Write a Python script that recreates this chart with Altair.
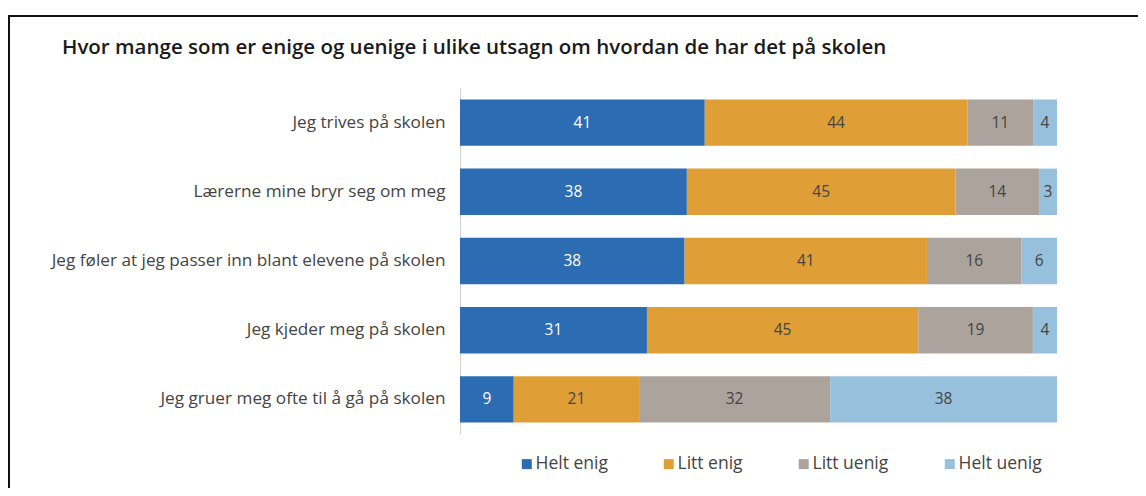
import altair as alt
import pandas as pd

questions = [
    "Jeg trives på skolen",
    "Lærerne mine bryr seg om meg",
    "Jeg føler at jeg passer inn blant elevene på skolen",
    "Jeg kjeder meg på skolen",
    "Jeg gruer meg ofte til å gå på skolen",
]
categories = ["Helt enig", "Litt enig", "Litt uenig", "Helt uenig"]
helt_enig = [41, 38, 38, 31, 9]
litt_enig = [44, 45, 41, 45, 21]
litt_uenig = [11, 14, 16, 19, 32]
helt_uenig = [4, 3, 6, 4, 38]
colors = ["#2B6CB3", "#E09E37", "#ABA39C", "#97C0DC"]
title_text = "Hvor mange som er enige og uenige i ulike utsagn om hvordan de har det på skolen"

rows = []
for i, q in enumerate(questions):
    for j, (c, vals) in enumerate(zip(categories, [helt_enig, litt_enig, litt_uenig, helt_uenig])):
        rows.append({"q": q, "cat": c, "order": j, "value": vals[i]})
df = pd.DataFrame(rows)

FONT = "Open Sans"

base = alt.Chart(df).transform_joinaggregate(
    total="sum(value)", groupby=["q"]
).transform_calculate(
    pct="datum.value / datum.total"
).transform_stack(
    stack="pct", groupby=["q"], as_=["x0", "x1"], sort=[alt.SortField("order", order="ascending")]
).transform_calculate(
    mid="(datum.x0 + datum.x1) / 2"
)

yenc = alt.Y(
    "q:N",
    sort=questions,
    title=None,
    scale=alt.Scale(paddingInner=0.33, paddingOuter=0.165),
    axis=alt.Axis(
        ticks=False,
        domain=True,
        domainColor="#d0d0d0",
        domainWidth=1,
        labelFont=FONT,
        labelFontSize=17.2,
        labelColor="#444444",
        labelPadding=15,
        labelLimit=450,
    ),
)

xscale = alt.Scale(domain=[0, 1], nice=False, zero=True)

bars = base.mark_bar(strokeWidth=0).encode(
    y=yenc,
    x=alt.X("x0:Q", scale=xscale, axis=None),
    x2="x1:Q",
    color=alt.Color(
        "cat:N",
        sort=categories,
        scale=alt.Scale(domain=categories, range=colors),
        legend=alt.Legend(
            title=None,
            orient="none",
            legendX=58,
            legendY=367,
            direction="horizontal",
            symbolType="square",
            symbolSize=100,
            symbolStrokeWidth=0,
            labelFont=FONT,
            labelFontSize=17.5,
            labelColor="#444444",
            labelOffset=0,
            columnPadding=52,
        ),
    ),
)

labels = base.mark_text(font=FONT, fontSize=15.5, fontWeight=500, baseline="middle", align="center").encode(
    y=alt.Y("q:N", sort=questions),
    x=alt.X("mid:Q", scale=xscale),
    text="value:Q",
    color=alt.condition(
        alt.datum.cat == "Helt enig", alt.value("#ffffff"), alt.value("#444444")
    ),
)

frame = alt.Chart(pd.DataFrame({"f": [0]})).mark_rect(
    fill=None, stroke="#111111", strokeWidth=2
).encode(
    x=alt.value(-451), x2=alt.value(1200), y=alt.value(-72), y2=alt.value(1000)
)

title = alt.Chart(pd.DataFrame({"t": [title_text]})).mark_text(
    font=FONT, fontSize=20.5, fontWeight=600, color="#1a1a1a", align="left", baseline="middle"
).encode(
    text="t:N", x=alt.value(-398), y=alt.value(-40)
)

chart = alt.layer(frame, bars, labels, title).properties(
    width=597,
    height=346,
    autosize=alt.AutoSizeParams(type="none"),
    padding={"left": 452, "top": 80, "right": 81, "bottom": 54},
).configure_view(stroke=None)

chart.save("out.html", embed_options={"renderer": "svg", "actions": False})
